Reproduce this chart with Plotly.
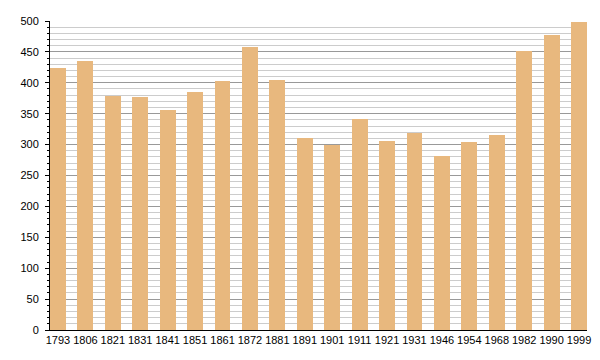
import plotly.graph_objects as go

years = ["1793", "1806", "1821", "1831", "1841", "1851", "1861", "1872", "1881", "1891",
         "1901", "1911", "1921", "1931", "1946", "1954", "1968", "1982", "1990", "1999"]
population = [424, 435, 379, 377, 356, 385, 403, 458, 405, 311,
              299, 341, 306, 319, 282, 304, 316, 451, 477, 498]

bar_w = 0.58

fig = go.Figure(go.Bar(
    x=years, y=population, width=bar_w,
    marker=dict(color="#E8B87E", line=dict(width=0)),
    hoverinfo="x+y",
))

fig.update_layout(
    width=600, height=360,
    margin=dict(l=50, r=9, t=21, b=30),
    paper_bgcolor="white", plot_bgcolor="white",
    font=dict(family="Liberation Sans, Arial, sans-serif", size=11, color="#000"),
    showlegend=False,
    bargap=0,
)

fig.update_xaxes(
    type="category",
    range=[-bar_w / 2, len(years) - 1 + bar_w / 2],
    showline=True, linecolor="#000", linewidth=1,
    showgrid=False, ticks="", zeroline=False,
    tickfont=dict(size=11),
)

fig.update_yaxes(
    range=[0, 500], dtick=50, tick0=0,
    showline=True, linecolor="#000", linewidth=1,
    showgrid=True, gridcolor="#999999", gridwidth=1,
    ticks="outside", ticklen=4, tickcolor="#000",
    ticklabelstandoff=4,
    zeroline=False,
    minor=dict(dtick=10, showgrid=True, gridcolor="#cccccc", gridwidth=1,
               ticks="outside", ticklen=2, tickcolor="#000"),
    tickfont=dict(size=11),
)

fig.write_html(
    "out.html",
    config={"displayModeBar": False},
    post_script="document.body.style.margin='0';document.body.style.overflow='hidden';",
)
